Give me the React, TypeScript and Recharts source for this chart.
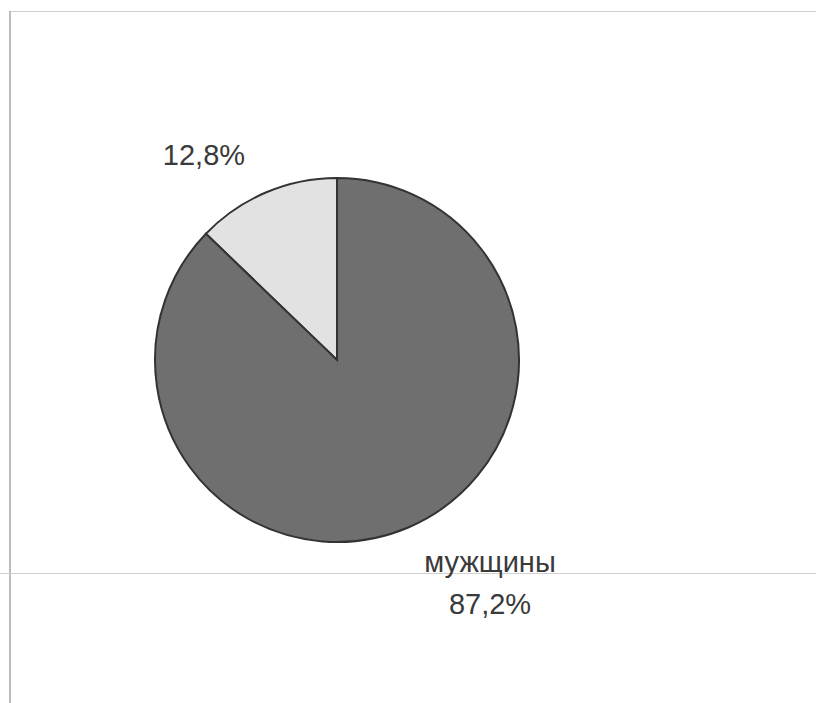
import React from "react";
import { PieChart, Pie, Cell } from "recharts";

const categories = ["женщины", "мужщины"];
const values = [12.8, 87.2];
const valueLabels = ["12,8%", "87,2%"];
const showName = [false, true];
const colors = ["#e2e2e2", "#6f6f6f"];

const data = categories.map((name, i) => ({ name, value: values[i] }));

const RAD = Math.PI / 180;

const renderLabel = (props: any) => {
  const { cx, cy, midAngle, outerRadius, index } = props;
  const extra = index === 0 ? 62 : 88;
  const shift = index === 0 ? 10 : 12;
  const a = midAngle + shift;
  const x = cx + (outerRadius + extra) * Math.cos(-a * RAD);
  const y = cy + (outerRadius + extra) * Math.sin(-a * RAD);
  const style = { fontFamily: "Liberation Sans, Arial, sans-serif", fontSize: 29, fill: "#3a3a3a" };
  if (showName[index]) {
    return (
      <g>
        <text x={x - 2} y={y - 9} textAnchor="middle" style={style}>
          {categories[index]}
        </text>
        <text x={x - 2} y={y + 33} textAnchor="middle" style={style}>
          {valueLabels[index]}
        </text>
      </g>
    );
  }
  return (
    <text x={x} y={y + 10} textAnchor="middle" style={style}>
      {valueLabels[index]}
    </text>
  );
};

export default function App() {
  return (
    <div style={{ position: "absolute", left: 0, top: 0, width: 816, height: 703, background: "#fff" }}>
      <div style={{ position: "absolute", left: 9, top: 11, width: 807, height: 0, borderTop: "1px solid #cfcfcf" }} />
      <div style={{ position: "absolute", left: 9, top: 11, width: 0, height: 692, borderLeft: "2px solid #bdbdbd" }} />
      <div style={{ position: "absolute", left: 0, top: 573, width: 816, height: 0, borderTop: "1px solid #d0d0d0" }} />
      <div style={{ position: "absolute", left: 0, top: 0 }}>
        <PieChart width={816} height={703} margin={{ top: 0, right: 0, bottom: 0, left: 0 }}>
          <Pie
            data={data}
            dataKey="value"
            nameKey="name"
            cx={337}
            cy={360}
            outerRadius={182}
            startAngle={90}
            endAngle={450}
            stroke="#333"
            strokeWidth={2}
            label={renderLabel}
            labelLine={false}
            isAnimationActive={false}
          >
            {data.map((d, i) => (
              <Cell key={d.name} fill={colors[i]} />
            ))}
          </Pie>
        </PieChart>
      </div>
    </div>
  );
}
